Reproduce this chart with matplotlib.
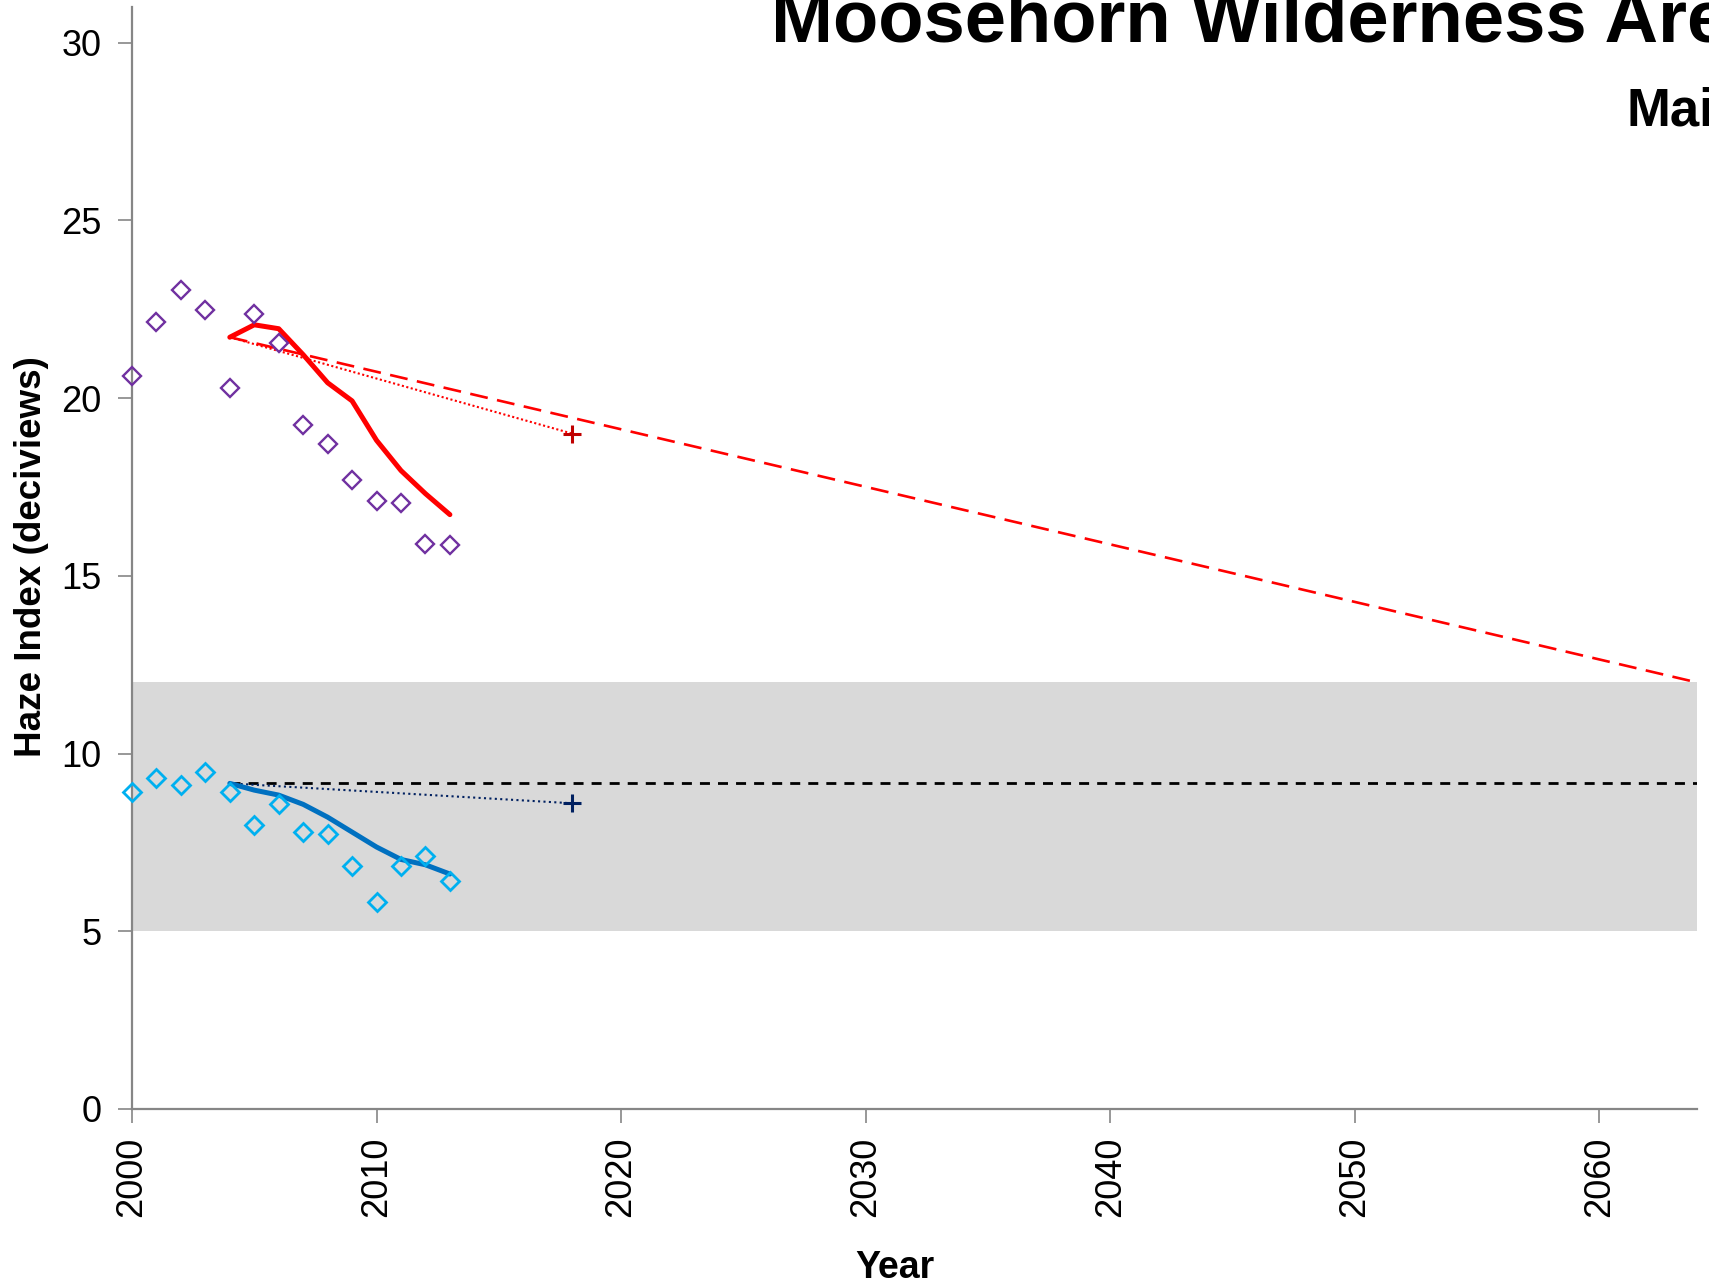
import matplotlib
matplotlib.use('Agg')
import matplotlib.pyplot as plt

plt.rcParams['font.family'] = ['Liberation Sans', 'DejaVu Sans']

# 20% worst days (purple) and 20% best days (cyan), annual values
years = [2000, 2001, 2002, 2003, 2004, 2005, 2006, 2007, 2008, 2009, 2010, 2011, 2012, 2013]
worst = [20.63, 22.13, 23.05, 22.49, 20.28, 22.36, 21.56, 19.25, 18.72, 17.70, 17.09, 17.06, 15.88, 15.86]
best = [8.92, 9.30, 9.11, 9.47, 8.91, 7.98, 8.59, 7.79, 7.74, 6.83, 5.83, 6.83, 7.13, 6.42]

# 5-year rolling averages
avg_years = [2004, 2005, 2006, 2007, 2008, 2009, 2010, 2011, 2012, 2013]
worst_avg = [21.71, 22.06, 21.95, 21.22, 20.43, 19.92, 18.81, 17.96, 17.31, 16.72]
best_avg = [9.16, 8.97, 8.83, 8.57, 8.21, 7.79, 7.37, 7.02, 6.87, 6.61]

# glidepath / no degradation / 2018 goals
glide_x = [2004, 2064]
glide_y = [21.71, 12.0]
nodeg_x = [2004, 2064]
nodeg_y = [9.16, 9.16]
goal_x = [2004, 2018]
worst_goal = [21.71, 19.0]
best_goal = [9.16, 8.6]

# natural conditions band
band_x = [2000, 2064]
band_lo = [5, 5]
band_hi = [12, 12]

W, H = 1709, 1285
fig = plt.figure(figsize=(W / 100, H / 100), dpi=100)
ax = fig.add_axes([132 / W, 1 - 1109 / H, (1697 - 132) / W, (1109 - 7) / H])

ax.fill_between(band_x, band_lo, band_hi, color='#D9D9D9', lw=0, zorder=0)

ax.plot(glide_x, glide_y, color='#FF0000', lw=1.9, dashes=(6.8, 3.6), zorder=2)
ax.plot(nodeg_x, nodeg_y, color='black', lw=2.0, dashes=(3.6, 2.9), zorder=2)
ax.plot(goal_x, worst_goal, color='#FF0000', lw=1.5, dashes=(1, 1.2), zorder=2)
ax.plot(goal_x, best_goal, color='#002060', lw=1.5, dashes=(1, 1.6), zorder=2)
ax.plot(goal_x[1], worst_goal[1], marker='+', color='#C00000', ms=12.5, mew=2.2, zorder=4)
ax.plot(goal_x[1], best_goal[1], marker='+', color='#002060', ms=12.5, mew=2.2, zorder=4)

ax.plot(avg_years, worst_avg, color='#FF0000', lw=3.6, solid_capstyle='round', zorder=3)
ax.plot(avg_years, best_avg, color='#0070C0', lw=3.6, solid_capstyle='round', zorder=3)

ax.plot(years, worst, ls='none', marker='D', ms=9.4, mfc='none', mec='#7030A0', mew=1.7,
        clip_on=False, zorder=5)
ax.plot(years, best, ls='none', marker='D', ms=9.4, mfc='none', mec='#00B0F0', mew=2.0,
        clip_on=False, zorder=5)

ax.set_xlim(2000, 2064)
ax.set_ylim(0, 31)
ax.set_xticks(range(2000, 2061, 10))
ax.set_yticks(range(0, 31, 5))
ax.tick_params(axis='x', labelsize=26, labelrotation=90, length=10, width=1.2,
               color='#868686', pad=10)
ax.tick_params(axis='y', labelsize=26, length=10, width=1.2, color='#868686', pad=12)
for s in ['top', 'right']:
    ax.spines[s].set_visible(False)
for s in ['left', 'bottom']:
    ax.spines[s].set_color('#868686')
    ax.spines[s].set_linewidth(1.6)

fig.text(895 / W, 1 - 1278 / H, 'Year', fontsize=27, fontweight='bold', ha='center', va='baseline')
fig.text(32 / W, 1 - 557 / H, 'Haze Index (deciviews)', fontsize=26.5, fontweight='bold',
         rotation=90, ha='center', va='center')
fig.text(771 / W, 1 - 42 / H, 'Moosehorn Wilderness Area', fontsize=53.5, fontweight='bold',
         ha='left', va='baseline')
fig.text(1626 / W, 1 - 125 / H, 'Maine', fontsize=38, fontweight='bold',
         ha='left', va='baseline')

fig.savefig('out.png', dpi=100)
